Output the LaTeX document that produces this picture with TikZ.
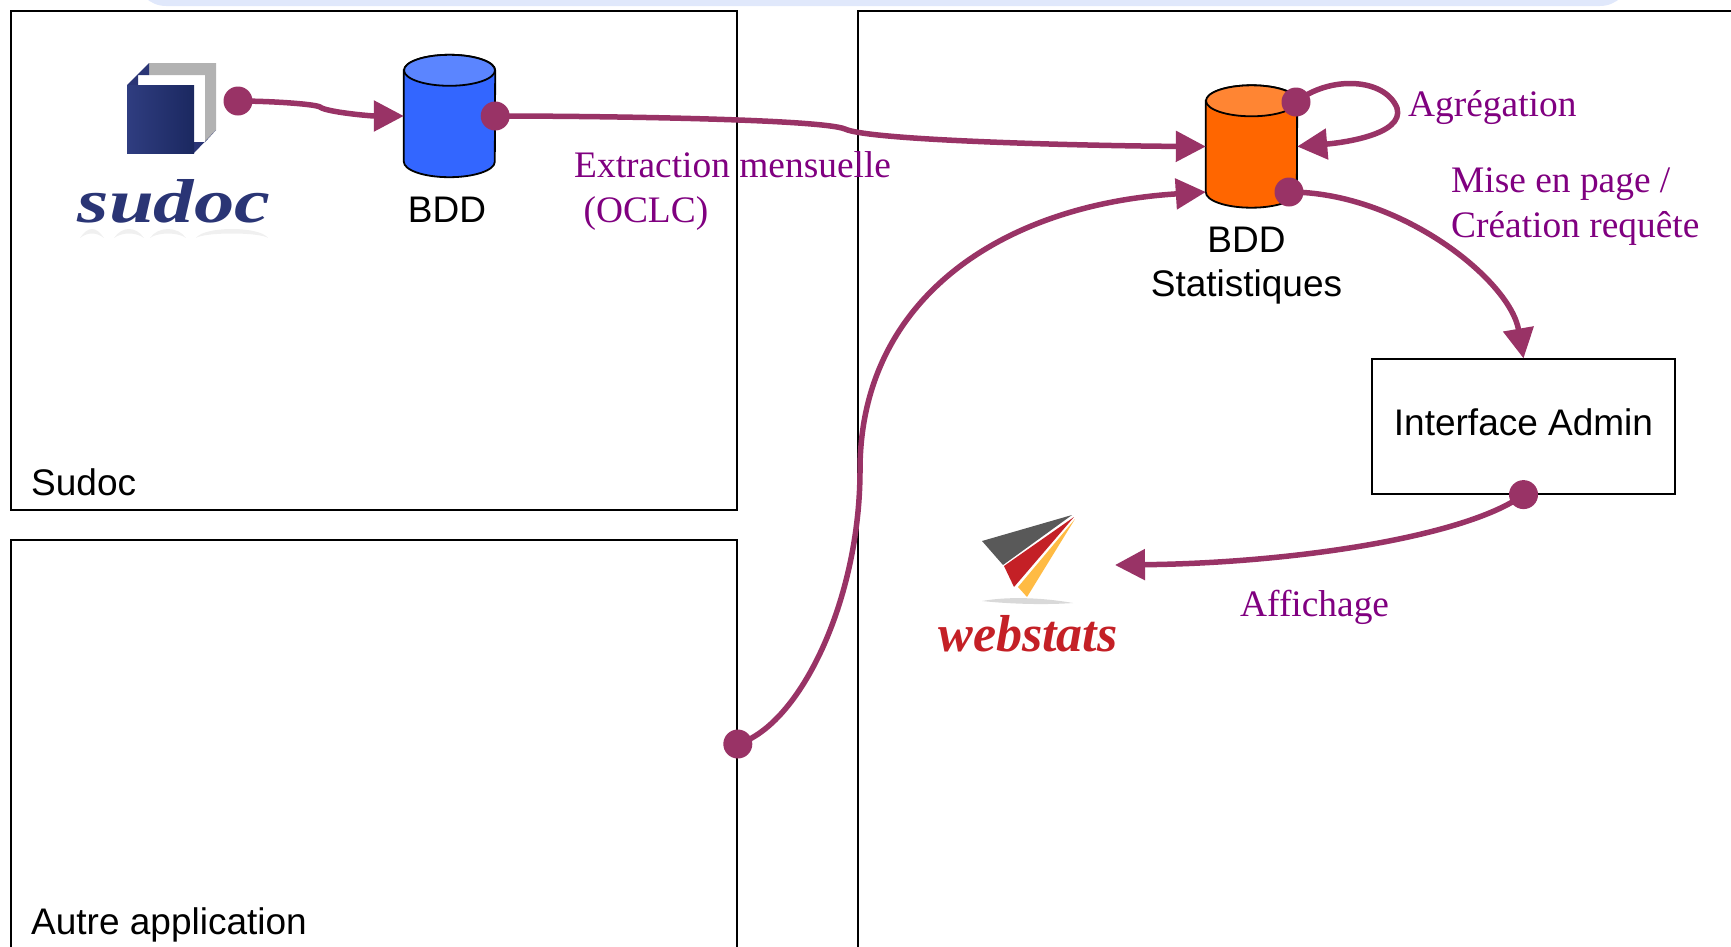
\documentclass[tikz,border=0pt]{standalone}
\usepackage{fontspec}
\setmainfont{Liberation Serif}
\newfontfamily\arialfont{Liberation Sans}
\usetikzlibrary{arrows.meta, positioning}
\definecolor{flowcolor}{HTML}{993366}
\definecolor{labelcolor}{HTML}{800080}
\definecolor{bandcolor}{HTML}{E0E8FB}
\definecolor{sudocblue}{HTML}{2A3575}
\definecolor{cubeleft}{HTML}{2F3D80}
\definecolor{cuberight}{HTML}{1B2860}
\definecolor{webred}{HTML}{C42026}
\definecolor{webyellow}{HTML}{FFBB44}
\definecolor{bddblue}{HTML}{3366FF}
\definecolor{bddbluetop}{HTML}{5B85FF}
\definecolor{statsorange}{HTML}{FF6600}
\definecolor{statsorangetop}{HTML}{FF8533}
% Cylinder over a named node: name, body colour, top colour
\newcommand{\dbdraw}[3]{
  \draw[line width=1.8pt, fill=#2] ([yshift=-15.5pt]#1.north west) -- ([yshift=15.5pt]#1.south west) arc[x radius=45.5pt, y radius=15.5pt, start angle=180, end angle=360] -- ([yshift=-15.5pt]#1.north east) arc[x radius=45.5pt, y radius=15.5pt, start angle=0, end angle=180] -- cycle;
  \draw[line width=1.8pt, fill=#3] ([yshift=-15.5pt]#1.north) ellipse[x radius=45.5pt, y radius=15.5pt];
}

\begin{document}
\begin{tikzpicture}[
    x=1pt, y=-1pt,
    framebox/.style={draw=black, line width=1.6pt, fill=none, inner sep=0pt, minimum width=726pt},
    boxtitle/.style={anchor=west, inner sep=0pt, font=\arialfont\fontsize{37}{44}\selectfont},
    dbnode/.style={inner sep=0pt, minimum width=91pt, minimum height=122pt},
    dbtext/.style={align=center, inner sep=0pt, font=\arialfont\fontsize{37}{44}\selectfont},
    purpletext/.style={anchor=west, align=left, inner sep=0pt, text=labelcolor, font=\fontsize{37.4}{45}\selectfont},
    dot/.style={circle, fill=flowcolor, inner sep=0pt, minimum size=29pt},
    flow/.style={draw=flowcolor, line width=5.5pt, -{Triangle[length=30pt, width=30pt]}}, % Arrow tips as wide as they are long
    logotext/.style={inner sep=0pt, font=\itshape\bfseries\fontsize{62}{62}\selectfont}
]
\clip (0,0) rectangle (1731,946);

% Band at the top edge
\fill[bandcolor, rounded corners=30pt] (136,-40) rectangle (1630,6);

% Boxes
\node[framebox, minimum height=499pt] (sudocbox) at (374,260.5) {};
\node[framebox, minimum height=500pt, below of=sudocbox, node distance=529.5pt] (autrebox) {};
\node[framebox, minimum width=1000pt, minimum height=1000pt] (statsbox) at (1358,511) {};
\node[boxtitle] (sudoctitle) at (31,482) {Sudoc};
\node[boxtitle] (autretitle) at (31,925) {Autre application};

% Databases
\node[dbnode] (bdd) at (449.5,116) {};
\node[dbnode, right of=bdd, node distance=802pt, yshift=-30.5pt] (stats) {};
\dbdraw{bdd}{bddblue}{bddbluetop}
\dbdraw{stats}{statsorange}{statsorangetop}
\node[dbtext] (bddtext) at (447,210) {BDD};
\node[dbtext, below of=stats, node distance=119pt, xshift=-5pt] (statstext) {BDD\\Statistiques};

% Interface
\node[draw=black, line width=1.2pt, minimum width=303pt, minimum height=135pt, inner sep=0pt, font=\arialfont\fontsize{37}{44}\selectfont] (admin) at (1523.5,426.5) {\raisebox{8pt}{Interface Admin}};

% Sudoc logo
\fill[gray!60] (149,63) -- (216,63) -- (216,130) -- (205,142) -- (205,75) -- (149,75) -- cycle;
\fill[sudocblue] (127,85) -- (149,63) -- (149,75) -- (138,75) -- (138,85) -- cycle;
\fill[sudocblue] (194,153) -- (216,130) -- (205,142) -- (194,142) -- cycle;
\shade[left color=cubeleft, right color=cuberight] (127,85) rectangle (194,153);
\node[logotext, text=sudocblue, xscale=1.3] (sudoclogo) at (174,201) {sudoc};
\foreach \xa/\xb in {80/104, 114/144, 150/186, 196/268}
  \fill[black!6] (\xa,238) .. controls (\xa+8,226) and (\xb-8,226) .. (\xb,238) .. controls (\xb-8,232) and (\xa+8,232) .. (\xa,238) -- cycle;

% Webstats logo
\fill[black!65] (982,541) -- (1072,515) -- (1003,565) -- cycle;
\fill[webred] (1074,517) -- (1004,566) -- (1014,587) -- cycle;
\fill[webyellow] (1075,519) -- (1018,587) -- (1027,597) -- cycle;
\fill[black!15] (982,601) .. controls (1010,596) and (1045,598) .. (1073,603) .. controls (1045,605) and (1010,604) .. (982,601) -- cycle;
\node[logotext, text=webred, font=\itshape\bfseries\fontsize{52}{52}\selectfont] (webstats) at (1028,634) {webstats};

% Dots
\node[dot] (sudocdot) at (238,101) {};
\node[dot] (bdddot) at (bdd.east) {};
\node[dot] (loopdot) at (1296,102) {};
\node[dot] (statsdot) at (1289,192) {};
\node[dot] (admindot) at (admin.south) {};
\node[dot] (autredot) at (autrebox.east |- 0,744) {};

% Arrows
\path[flow] (sudocdot.center) .. controls (270,101) and (315,104) .. (320,107) .. controls (326,112) and (370,116) .. (bdd.west);
\path[flow] (bdddot.center) .. controls (600,116) and (820,119) .. (845,129) .. controls (870,141) and (1100,146) .. (stats.west);
\path[flow] (autredot.center) .. controls (800,725) and (860,600) .. (860,470) .. controls (860,300) and (1000,205) .. ([yshift=-45.5pt]stats.west);
\path[flow] (loopdot.center) .. controls (1330,75) and (1385,78) .. (1397,108) .. controls (1405,135) and (1340,143) .. (stats.east);
\path[flow] (statsdot.center) .. controls (1400,192) and (1510,280) .. (admin.north);
\path[flow] (admindot.center) .. controls (1470,535) and (1300,563) .. (1115,565);

% Labels
\node[purpletext] (extractlabel) at (574,191) {Extraction mensuelle\\\ (OCLC)};
\node[purpletext] (agreglabel) at (1408,108) {Agrégation};
\node[purpletext] (miselabel) at (1451,207) {Mise en page /\\Création requête};
\node[purpletext] (affichlabel) at (1240,607) {Affichage};

\end{tikzpicture}
\end{document}
